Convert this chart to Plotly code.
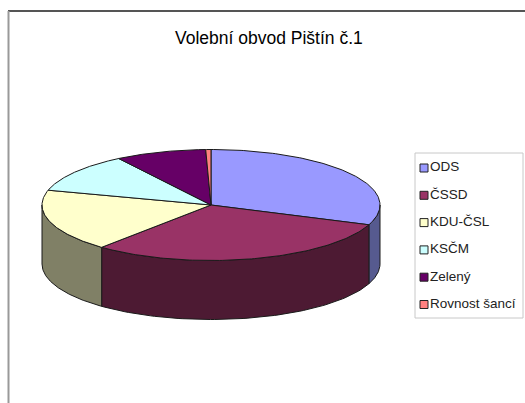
import numpy as np
import plotly.graph_objects as go

categories = ["ODS", "ČSSD", "KDU-ČSL", "KSČM", "Zelený", "Rovnost šancí"]
values = [30.8, 30.4, 18.1, 11.5, 8.7, 0.5]
top_colors = ["#9999FF", "#993366", "#FFFFCC", "#CCFFFF", "#660066", "#FF8080"]
side_colors = ["#565A8F", "#4D1A33", "#808066", "#668080", "#330033", "#804040"]
title = "Volební obvod Pištín č.1"

CX, CY, RX, RY, DEPTH = 211, 205, 169, 55.5, 59
LEG_X, LEG_Y0, LEG_DY = 424, 168, 27.3

LINE = dict(color="#1a1a1a", width=1)


def pt(theta, dy=0.0):
    t = np.radians(theta)
    return CX + RX * np.sin(t), CY - RY * np.cos(t) + dy


fig = go.Figure()
edges = np.concatenate([[0], np.cumsum(values)]) / sum(values) * 360

# side walls: only the front half of the rim (90..270 deg clockwise from top)
for i in range(len(values)):
    a, b = max(edges[i], 90), min(edges[i + 1], 270)
    if b <= a:
        continue
    th = np.linspace(a, b, 80)
    xt, yt = pt(th)
    xb, yb = pt(th[::-1], DEPTH)
    fig.add_trace(go.Scatter(
        x=np.r_[xt, xb, xt[0]], y=np.r_[yt, yb, yt[0]], mode="lines", fill="toself",
        fillcolor=side_colors[i], line=LINE, hoverinfo="skip", showlegend=False))

# top faces
for i in range(len(values)):
    th = np.linspace(edges[i], edges[i + 1], 120)
    xt, yt = pt(th)
    fig.add_trace(go.Scatter(
        x=np.r_[CX, xt, CX], y=np.r_[CY, yt, CY], mode="lines", fill="toself",
        fillcolor=top_colors[i], line=LINE, name=categories[i],
        hoverinfo="name", showlegend=False))

# legend key and labels
fig.add_trace(go.Scatter(
    x=[LEG_X] * len(categories), y=[LEG_Y0 + LEG_DY * k for k in range(len(categories))],
    mode="markers+text", text=categories, textposition="middle right",
    textfont=dict(family="Liberation Sans", size=13.5, color="#222222"),
    marker=dict(symbol="square", size=8, color=top_colors, line=dict(color="#222222", width=1)),
    hoverinfo="skip", showlegend=False, cliponaxis=False))

shapes = [
    dict(type="rect", x0=415, x1=523, y0=153, y1=318, line=dict(color="#c8c8c8", width=1), layer="below"),
    dict(type="line", x0=8, x1=525, y0=11, y1=11, line=dict(color="#555555", width=2)),
    dict(type="line", x0=8.5, x1=8.5, y0=11, y1=403, line=dict(color="#999999", width=2)),
]

fig.update_layout(
    width=525, height=403, margin=dict(l=0, r=0, t=0, b=0),
    paper_bgcolor="white", plot_bgcolor="white", showlegend=False, shapes=shapes,
    xaxis=dict(range=[0, 525], visible=False, fixedrange=True),
    yaxis=dict(range=[403, 0], visible=False, fixedrange=True),
    annotations=[dict(x=269, y=38, xref="x", yref="y", text=title, showarrow=False,
                      font=dict(family="Liberation Sans", size=17.5, color="#000000"))],
)
fig.write_html("out.html", config=dict(displayModeBar=False),
               post_script="document.body.style.margin='0';")
